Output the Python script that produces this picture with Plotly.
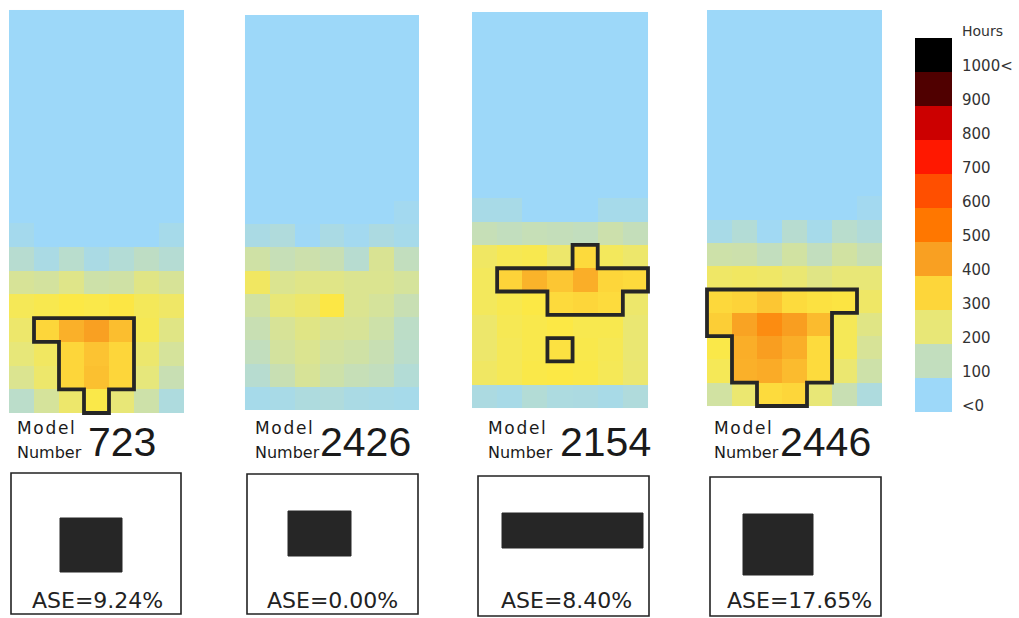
import plotly.graph_objects as go

# ---------------------------------------------------------------- data
model_numbers = ["723", "2426", "2154", "2446"]
ase_labels = ["ASE=9.24%", "ASE=0.00%", "ASE=8.40%", "ASE=17.65%"]

B = -50  # cells below zero hours

hours_723 = [
    [B, B, B, B, B, B, B],
    [B, B, B, B, B, B, B],
    [B, B, B, B, B, B, B],
    [B, B, B, B, B, B, B],
    [B, B, B, B, B, B, B],
    [B, B, B, B, B, B, B],
    [B, B, B, B, B, B, B],
    [B, B, B, B, B, B, B],
    [B, B, B, B, B, B, B],
    [20, B, B, B, B, B, 25],
    [70, 35, 75, 35, 60, 90, 65],
    [155, 145, 175, 130, 135, 180, 155],
    [232, 240, 250, 245, 255, 230, 217],
    [212, 300, 370, 400, 345, 235, 180],
    [197, 222, 300, 335, 300, 210, 150],
    [165, 212, 300, 340, 300, 195, 115],
    [80, 150, 212, 246, 200, 130, 45],
]

hours_2426 = [
    [B, B, B, B, B, B, B],
    [B, B, B, B, B, B, B],
    [B, B, B, B, B, B, B],
    [B, B, B, B, B, B, B],
    [B, B, B, B, B, B, B],
    [B, B, B, B, B, B, B],
    [B, B, B, B, B, B, B],
    [B, B, B, B, B, B, B],
    [B, B, B, B, B, B, 15],
    [35, 50, 5, 35, 15, 40, 25],
    [135, 110, 125, 115, 70, 160, 100],
    [222, 165, 178, 178, 165, 165, 150],
    [140, 200, 212, 252, 165, 150, 115],
    [115, 155, 180, 160, 155, 130, 85],
    [100, 145, 165, 145, 135, 115, 80],
    [70, 115, 155, 130, 110, 100, 60],
    [25, 30, 45, 50, 35, 30, 25],
]

hours_2154 = [
    [B, B, B, B, B, B, B],
    [B, B, B, B, B, B, B],
    [B, B, B, B, B, B, B],
    [B, B, B, B, B, B, B],
    [B, B, B, B, B, B, B],
    [B, B, B, B, B, B, B],
    [B, B, B, B, B, B, B],
    [B, B, B, B, B, B, B],
    [30, 30, B, B, B, 25, 25],
    [110, 100, 110, 105, 100, 125, 105],
    [220, 235, 240, 212, 290, 227, 212],
    [227, 305, 365, 330, 375, 300, 290],
    [227, 240, 250, 290, 300, 285, 212],
    [212, 235, 243, 250, 240, 240, 205],
    [212, 232, 243, 270, 243, 235, 205],
    [220, 232, 246, 250, 246, 232, 207],
    [40, 30, 60, 42, 40, 30, 50],
]

hours_2446 = [
    [B, B, B, B, B, B, B],
    [B, B, B, B, B, B, B],
    [B, B, B, B, B, B, B],
    [B, B, B, B, B, B, B],
    [B, B, B, B, B, B, B],
    [B, B, B, B, B, B, B],
    [B, B, B, B, B, B, B],
    [B, B, B, B, B, B, B],
    [B, B, B, B, B, B, 15],
    [30, 60, 10, 70, 25, 75, 55],
    [130, 125, 100, 140, 100, 140, 110],
    [217, 222, 217, 205, 180, 200, 200],
    [295, 305, 330, 285, 270, 262, 217],
    [315, 395, 450, 405, 350, 232, 180],
    [246, 375, 405, 375, 285, 232, 155],
    [232, 370, 380, 350, 285, 207, 130],
    [140, 207, 285, 300, 200, 115, 45],
]

# highlighted zones as (row, column) cells
zone_723 = [(13, 1), (13, 2), (13, 3), (13, 4),
            (14, 2), (14, 3), (14, 4),
            (15, 2), (15, 3), (15, 4),
            (16, 3)]
zone_2426 = []
zone_2154 = [(10, 4),
             (11, 1), (11, 2), (11, 3), (11, 4), (11, 5), (11, 6),
             (12, 3), (12, 4), (12, 5),
             (14, 3)]
zone_2446 = [(12, 0), (12, 1), (12, 2), (12, 3), (12, 4), (12, 5),
             (13, 0), (13, 1), (13, 2), (13, 3), (13, 4),
             (14, 1), (14, 2), (14, 3), (14, 4),
             (15, 1), (15, 2), (15, 3), (15, 4),
             (16, 2), (16, 3)]

legend_values = [1050, 900, 800, 700, 600, 500, 400, 300, 200, 100, -50]
legend_labels = ["1000<", "900", "800", "700", "600", "500", "400", "300", "200", "100", "<0"]

grids = [hours_723, hours_2426, hours_2154, hours_2446]
zones = [zone_723, zone_2426, zone_2154, zone_2446]

# ---------------------------------------------------------------- styling
W, H = 1019, 618
ZMIN, ZMAX = -100, 1100
stops = [(-100, "#9DD8F9"), (0, "#9DD8F9"), (100, "#C2DEBE"), (200, "#E8E777"),
         (250, "#FCE845"), (300, "#FDD63A"), (400, "#F9A022"), (500, "#FF7700"),
         (600, "#FF4F00"), (700, "#FF1800"), (800, "#CC0000"), (900, "#500000"),
         (1000, "#000000"), (1100, "#000000")]
colorscale = [[(v - ZMIN) / (ZMAX - ZMIN), c] for v, c in stops]

# pixel boxes of the four grids: left, right, top, bottom
grid_boxes = [(9, 184, 10, 413), (245, 419, 15, 410), (472, 648, 12, 408), (707, 882, 10, 406)]
PAD = 0.12


def px(x):
    return x / W


def py(y):
    return 1 - y / H


def zone_outline(cells):
    cellset = set(cells)
    edges = {}
    for r, c in cellset:
        tl, tr = (c - 0.5, r - 0.5), (c + 0.5, r - 0.5)
        br, bl = (c + 0.5, r + 0.5), (c - 0.5, r + 0.5)
        for a, b in ((tl, tr), (tr, br), (br, bl), (bl, tl)):
            edges[(a, b)] = True
    boundary = {}
    for (a, b) in edges:
        if (b, a) not in edges:
            boundary[a] = b
    xs, ys = [], []
    while boundary:
        start = next(iter(boundary))
        pts = [start]
        cur = boundary.pop(start)
        while cur != start:
            pts.append(cur)
            cur = boundary.pop(cur)
        loop = pts + [pts[0], pts[1]]
        xs += [p[0] for p in loop] + [None]
        ys += [p[1] for p in loop] + [None]
    return xs, ys


fig = go.Figure()
layout_axes = {}

for i, (grid, zone, box) in enumerate(zip(grids, zones, grid_boxes)):
    n = i + 1
    x0, x1, y0, y1 = box
    nrows, ncols = len(grid), len(grid[0])
    cw, rh = (x1 - x0) / ncols, (y1 - y0) / nrows
    xa, ya = ("x" if n == 1 else f"x{n}"), ("y" if n == 1 else f"y{n}")
    fig.add_trace(go.Heatmap(
        z=grid, x=list(range(ncols)), y=list(range(nrows)),
        colorscale=colorscale, zmin=ZMIN, zmax=ZMAX, showscale=False,
        hoverinfo="skip", xaxis=xa, yaxis=ya))
    if zone:
        ox, oy = zone_outline(zone)
        fig.add_trace(go.Scatter(
            x=ox, y=oy, mode="lines", line=dict(color="#262626", width=3.8),
            hoverinfo="skip", xaxis=xa, yaxis=ya))
    layout_axes[f"xaxis{'' if n == 1 else n}"] = dict(
        domain=[px(x0 - PAD * cw), px(x1 + PAD * cw)],
        range=[-0.5 - PAD, ncols - 0.5 + PAD], visible=False, fixedrange=True,
        anchor=ya)
    layout_axes[f"yaxis{'' if n == 1 else n}"] = dict(
        domain=[py(y1 + PAD * rh), py(y0 - PAD * rh)],
        range=[nrows - 0.5 + PAD, -0.5 - PAD], visible=False, fixedrange=True,
        anchor=xa)

# colour key
fig.add_trace(go.Heatmap(
    z=[[v] for v in legend_values], x=[0], y=list(range(len(legend_values))),
    colorscale=colorscale, zmin=ZMIN, zmax=ZMAX, showscale=False,
    hoverinfo="skip", xaxis="x5", yaxis="y5"))
layout_axes["xaxis5"] = dict(domain=[px(915), px(952)], range=[-0.5, 0.5],
                             visible=False, fixedrange=True, anchor="y5")
layout_axes["yaxis5"] = dict(domain=[py(412), py(38)],
                             range=[len(legend_values) - 0.5, -0.5],
                             visible=False, fixedrange=True, anchor="x5")

annotations = []
shapes = []


def note(text, x, y, size, family, xanchor="left", color="#1a1a1a"):
    annotations.append(dict(
        text=text, x=px(x), y=py(y), xref="paper", yref="paper",
        xanchor=xanchor, yanchor="middle", showarrow=False,
        font=dict(size=size, family=family, color=color)))


label_x = [15, 253, 486, 712]
number_x = [88, 320, 560, 780]
for lx, nx, num in zip(label_x, number_x, model_numbers):
    note("M\u200ao\u200ad\u200ae\u200al", lx, 428, 17, "DejaVu Sans")
    note("Number", lx, 452, 16, "DejaVu Sans")
    note(num, nx - 2, 442, 41, "Liberation Sans")

# lower boxes with footprint sketches
outer_boxes = [(11, 181, 473, 614), (247, 418, 474, 614), (478, 649, 476, 616), (710, 881, 477, 616)]
inner_boxes = [(60, 122, 518, 572), (288, 351, 511, 556), (502, 643, 513, 548), (743, 813, 514, 575)]
ase_x = [97, 332, 566, 799]
for (a0, a1, b0, b1), (c0, c1, d0, d1), ax, lab in zip(outer_boxes, inner_boxes, ase_x, ase_labels):
    shapes.append(dict(type="rect", xref="paper", yref="paper",
                       x0=px(a0), x1=px(a1), y0=py(b1), y1=py(b0),
                       line=dict(color="#222222", width=1.6), fillcolor="rgba(0,0,0,0)"))
    shapes.append(dict(type="rect", xref="paper", yref="paper",
                       x0=px(c0), x1=px(c1), y0=py(d1), y1=py(d0),
                       line=dict(color="#262626", width=1), fillcolor="#262626"))
    note(lab, ax, 600, 22, "DejaVu Sans", xanchor="center", color="#222222")

# colour key labels
note("Hours", 960, 31, 14, "DejaVu Sans", color="#333333")
label_y = [66, 100, 134, 168, 202, 236, 270, 304, 338, 372, 406]
for lab, yy in zip(legend_labels, label_y):
    note(lab, 960, yy, 15, "DejaVu Sans", color="#333333")

fig.update_layout(
    width=W, height=H, margin=dict(l=0, r=0, t=0, b=0),
    paper_bgcolor="white", plot_bgcolor="white", showlegend=False,
    annotations=annotations, shapes=shapes, **layout_axes)

fig.write_html("out.html", config={"displayModeBar": False})
